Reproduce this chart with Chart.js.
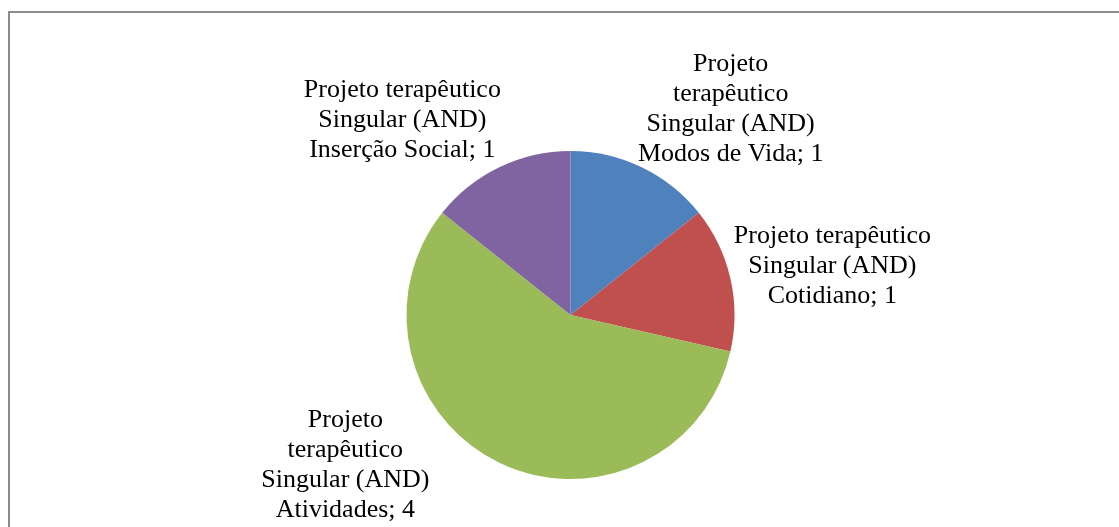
<!DOCTYPE html>
<html>
<head>
<meta charset="utf-8">
<script src="https://cdn.jsdelivr.net/npm/chart.js@4/dist/chart.umd.min.js"></script>
<style>
  html, body { margin: 0; padding: 0; background: #fff; }
  #wrap { width: 1119px; height: 527px; position: relative; overflow: hidden; }
</style>
</head>
<body>
<div id="wrap"><canvas id="pie" width="1119" height="527"></canvas></div>
<script>
const categories = [
    "Projeto terapêutico Singular (AND) Modos de Vida",
    "Projeto terapêutico Singular (AND) Cotidiano",
    "Projeto terapêutico Singular (AND) Atividades",
    "Projeto terapêutico Singular (AND) Inserção Social"
];
const values = [1, 1, 4, 1];
const colors = ["#4F81BD", "#C0504D", "#9BBB59", "#8064A2"];

// label block centre, relative to the outer middle point of its slice
const labelOffsets = [[89, -60], [102, -15], [-154, 0], [-97, -49]];
const labelWrap = [192, 215, 192, 215];
const labelFont = "26px 'Liberation Serif', 'Times New Roman', serif";
const lineHeight = 30;

function wrapText(ctx, text, maxWidth) {
    const words = text.split(" ");
    const lines = [];
    let line = "";
    words.forEach(function(w) {
        const test = line ? line + " " + w : w;
        if (line && ctx.measureText(test).width > maxWidth) {
            lines.push(line);
            line = w;
        } else {
            line = test;
        }
    });
    if (line) lines.push(line);
    return lines;
}

const framePlugin = {
    id: "frame",
    beforeDraw(chart) {
        const ctx = chart.ctx;
        ctx.save();
        ctx.strokeStyle = "#8c8c8c";
        ctx.lineWidth = 2;
        ctx.strokeRect(9, 12, 1300, 700);
        ctx.restore();
    }
};

const labelPlugin = {
    id: "pieLabels",
    afterDatasetsDraw(chart) {
        const ctx = chart.ctx;
        const meta = chart.getDatasetMeta(0);
        ctx.save();
        ctx.font = labelFont;
        ctx.fillStyle = "#000";
        ctx.textAlign = "center";
        ctx.textBaseline = "alphabetic";
        meta.data.forEach(function(arc, i) {
            const mid = (arc.startAngle + arc.endAngle) / 2;
            const ox = arc.x + Math.cos(mid) * arc.outerRadius;
            const oy = arc.y + Math.sin(mid) * arc.outerRadius;
            const cx = ox + labelOffsets[i][0];
            const cy = oy + labelOffsets[i][1];
            const text = categories[i] + "; " + values[i];
            const lines = wrapText(ctx, text, labelWrap[i]);
            const first = cy - (lines.length - 1) / 2 * lineHeight + 9;
            lines.forEach(function(l, j) {
                ctx.fillText(l, cx, first + j * lineHeight);
            });
        });
        ctx.restore();
    }
};

new Chart(document.getElementById("pie"), {
    type: "pie",
    data: {
        labels: categories,
        datasets: [{
            data: values,
            backgroundColor: colors,
            borderWidth: 0
        }]
    },
    options: {
        responsive: false,
        animation: false,
        devicePixelRatio: 1,
        layout: {
            padding: { left: 406.5, right: 384.5, top: 151, bottom: 48 }
        },
        plugins: {
            legend: { display: false },
            tooltip: { enabled: false }
        }
    },
    plugins: [framePlugin, labelPlugin]
});
</script>
</body>
</html>
